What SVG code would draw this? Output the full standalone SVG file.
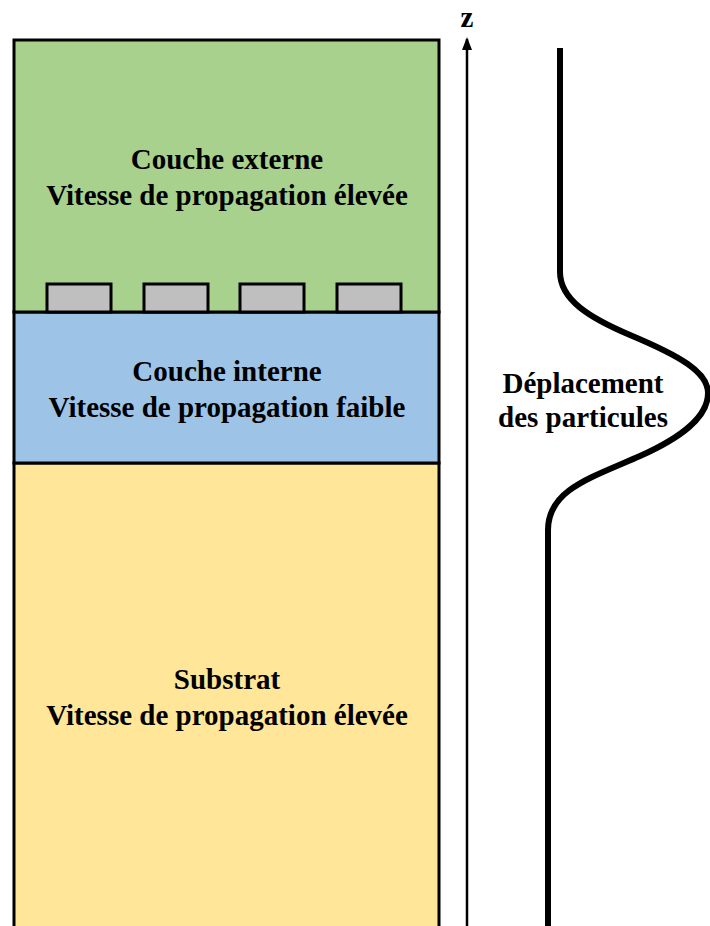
<svg xmlns="http://www.w3.org/2000/svg" width="710" height="926" viewBox="0 0 710 926">
<style>
.t{font-family:"Liberation Serif","Times New Roman",serif;font-weight:bold;font-size:29px;fill:#000;text-anchor:middle}
.layer{stroke:#000;stroke-width:3}
.el{fill:#BFBFBF;stroke:#000;stroke-width:3}
</style>
<defs>
<marker id="ah" markerWidth="13" markerHeight="11" refX="11" refY="5.5" orient="auto" markerUnits="userSpaceOnUse" viewBox="0 0 13 11">
<path d="M13 5.5 L0 0.5 L0 10.5 Z" fill="#000"/>
</marker>
</defs>
<rect width="710" height="926" fill="#fff"/>
<g id="substrat">
<rect class="layer" x="14" y="463" width="425" height="470" fill="#FFE699"/>
<text class="t" x="227" y="689">Substrat</text>
<text class="t" x="227" y="725">Vitesse de propagation élevée</text>
</g>
<g id="couche-interne">
<rect class="layer" x="14" y="312" width="425" height="151" fill="#9DC3E6"/>
<text class="t" x="227" y="381">Couche interne</text>
<text class="t" x="227" y="417">Vitesse de propagation faible</text>
</g>
<g id="couche-externe">
<rect class="layer" x="14" y="40" width="425" height="272" fill="#A9D18E"/>
<text class="t" x="227" y="169">Couche externe</text>
<text class="t" x="227" y="205">Vitesse de propagation élevée</text>
</g>
<g id="electrodes">
<rect class="el" x="47" y="284" width="64" height="28"/>
<rect class="el" x="144" y="284" width="64" height="28"/>
<rect class="el" x="240" y="284" width="64" height="28"/>
<rect class="el" x="337" y="284" width="64" height="28"/>
</g>
<g id="connectors">
<line x1="467" y1="926" x2="467" y2="39" stroke="#000" stroke-width="2.5" marker-end="url(#ah)"/>
<path d="M560 48 V272 C560 300 590 318 630 335 C680 356 708 372 708 393 C708 418 680 438 640 456 C590 478 548 490 548 530 V926" fill="none" stroke="#000" stroke-width="6"/>
</g>
<g id="axis-label">
<text class="t" x="467" y="27">z</text>
</g>
<g id="deplacement">
<text class="t" x="583" y="393">Déplacement</text>
<text class="t" x="583" y="427">des particules</text>
</g>
</svg>
